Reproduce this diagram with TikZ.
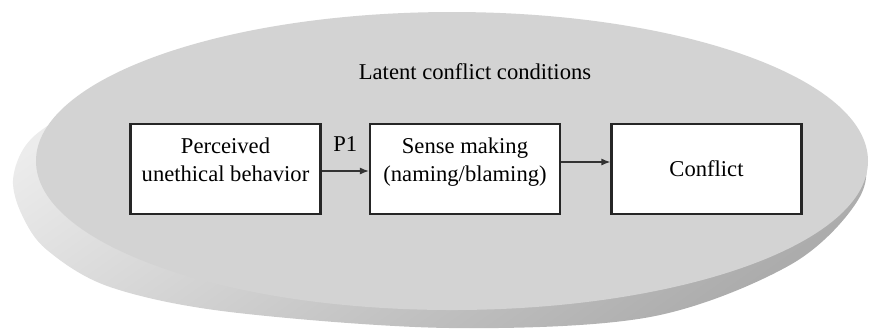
\documentclass[tikz,border=0pt]{standalone}
\usepackage{fontspec}
\setmainfont{Liberation Serif}
\usepackage{tikz}
\usetikzlibrary{arrows.meta,calc,positioning,shadings}

\definecolor{discTop}{RGB}{211,211,211}
\definecolor{discLight}{RGB}{236,236,236}
\definecolor{discDark}{RGB}{172,172,172}

\begin{document}
\begin{tikzpicture}[
  x=0.5pt, y=-0.5pt,
  box/.style={draw=black!85, line width=1.1pt, fill=white, minimum width=95pt,
              minimum height=45pt, align=center, inner sep=0pt,
              font=\fontsize{11.3}{14}\selectfont},
  raised/.style={text depth=9pt},
  link/.style={draw=black!80, line width=0.6pt, -{Latex[length=4.5pt,width=3.5pt]}},
]
\useasboundingbox (0,0) rectangle (872,329);

% --- the disc: side first, then top face ---
\shade[top color=discLight, bottom color=discDark, shading angle=35]
  plot[smooth cycle, tension=0.55] coordinates {
    (60,118) (26,145) (13,180) (22,215) (47,250) (110,287) (230,312) (450,328)
    (650,317) (790,265) (858,200) (860,150) (800,100) (455,40) (150,70)};
\fill[discTop] (452,161) ellipse [x radius=416, y radius=149];

\node[font=\fontsize{11.3}{14}\selectfont] (title) at (475,72) {Latent conflict conditions};

% --- the three boxes ---
\node[box, raised] (perceived) at (225.5,169) {Perceived\\unethical behavior};
\node[box, raised] (sense) at (465,169) {Sense making\\(naming/blaming)};
\node[box] (conflict) at (706.5,169) {Conflict};

% --- links ---
\draw[link] ([yshift=-1pt]perceived.east) -- ([yshift=-1pt]sense.west)
  node[midway, above=6pt, font=\fontsize{11.3}{14}\selectfont]{P1};
\draw[link] ([yshift=3.5pt]sense.east) -- ([yshift=3.5pt]conflict.west);

\end{tikzpicture}
\end{document}
